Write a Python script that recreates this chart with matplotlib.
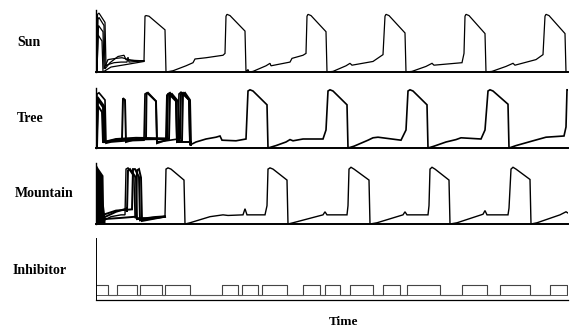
import matplotlib
matplotlib.use("Agg")
import matplotlib.pyplot as plt

# ---------------- data (time in arbitrary units, value normalised 0..1) -------------
panel_labels = ["Sun", "Tree", "Mountain", "Inhibitor"]
x_label = "Time"

# Sun
sun_main_t = [1, 1.5, 3, 9, 10, 12, 18, 25, 31, 32, 33, 40, 48, 49, 50, 53, 69, 70,
              77, 90, 97, 99, 110, 127, 129, 130, 131, 134, 149, 150,
              152, 153, 157, 170, 174, 175, 194, 196, 207, 210, 211, 212, 215, 230, 231,
              237, 250, 254, 256, 277, 287, 289, 290, 293, 309, 310,
              316, 330, 336, 338, 366, 368, 369, 370, 373, 389, 390,
              396, 410, 417, 419, 440, 447, 449, 450, 453, 469, 470, 472]
sun_main_v = [0.03, 0.93, 0.95, 0.80, 0.10, 0.12, 0.15, 0.16, 0.16, 0.24, 0.16, 0.17, 0.18, 0.90, 0.91, 0.90, 0.68, 0.0,
              0.02, 0.10, 0.15, 0.21, 0.23, 0.27, 0.30, 0.90, 0.93, 0.91, 0.66, 0.0,
              0.04, 0.0, 0.01, 0.10, 0.14, 0.10, 0.16, 0.22, 0.27, 0.30, 0.90, 0.93, 0.91, 0.65, 0.0,
              0.01, 0.10, 0.14, 0.11, 0.17, 0.28, 0.90, 0.93, 0.91, 0.63, 0.0,
              0.01, 0.09, 0.14, 0.11, 0.15, 0.30, 0.90, 0.93, 0.91, 0.62, 0.0,
              0.01, 0.09, 0.14, 0.11, 0.20, 0.28, 0.90, 0.93, 0.91, 0.62, 0.0, 0.0]
sun_tr1_t = [1, 2, 3, 8, 9, 14, 22, 28, 30, 40, 48]
sun_tr1_v = [0.02, 0.85, 0.88, 0.75, 0.05, 0.15, 0.25, 0.27, 0.20, 0.18, 0.18]
sun_tr2_t = [1, 2.5, 7, 8, 12, 20, 26, 35, 48]
sun_tr2_v = [0.02, 0.75, 0.65, 0.05, 0.20, 0.22, 0.23, 0.19, 0.18]
sun_tr3_t = [1, 2, 6, 7, 15, 30, 48]
sun_tr3_v = [0.0, 0.60, 0.50, 0.0, 0.08, 0.12, 0.17]

# Tree
tree_main_t = [0.5, 1, 3, 9, 10, 15, 30, 48, 49, 51, 60, 61, 70, 82, 83, 85, 93, 94,
               100, 110, 120, 124, 126, 140, 150, 152, 154, 157, 171, 172,
               180, 190, 194, 197, 207, 227, 230, 232, 234, 237, 251, 252,
               258, 272, 277, 282, 305, 310, 312, 314, 317, 331, 332,
               338, 350, 360, 365, 385, 389, 392, 394, 397, 412, 413,
               420, 437, 450, 468, 470, 471, 472]
tree_main_v = [0.02, 0.90, 0.92, 0.80, 0.08, 0.10, 0.12, 0.13, 0.90, 0.92, 0.78, 0.10, 0.12, 0.15, 0.90, 0.93, 0.80, 0.05,
               0.10, 0.15, 0.18, 0.20, 0.13, 0.12, 0.15, 0.95, 0.97, 0.95, 0.72, 0.0,
               0.04, 0.10, 0.14, 0.12, 0.15, 0.15, 0.30, 0.95, 0.97, 0.95, 0.72, 0.0,
               0.03, 0.13, 0.17, 0.18, 0.13, 0.30, 0.95, 0.97, 0.95, 0.72, 0.0,
               0.03, 0.10, 0.14, 0.17, 0.15, 0.30, 0.95, 0.97, 0.95, 0.73, 0.0,
               0.04, 0.12, 0.18, 0.20, 0.35, 0.97, 0.97]
tree_tr1_t = [0.5, 1.5, 8, 9, 20, 26, 27, 29, 30, 40, 50, 50.5, 52, 60, 61, 68, 71, 72, 74, 80, 81, 95]
tree_tr1_v = [0.02, 0.85, 0.70, 0.10, 0.14, 0.15, 0.83, 0.80, 0.10, 0.15, 0.16, 0.90, 0.92, 0.78, 0.08, 0.12, 0.14, 0.90, 0.92, 0.80, 0.10, 0.10]
tree_tr2_t = [0.5, 2, 7, 8, 20, 40, 70, 71, 73, 80, 81, 86, 87, 89, 94, 95]
tree_tr2_v = [0.02, 0.80, 0.68, 0.10, 0.15, 0.17, 0.16, 0.88, 0.90, 0.78, 0.10, 0.12, 0.90, 0.92, 0.80, 0.05]
tree_tr3_t = [1, 2, 6, 7, 30, 70, 73, 74, 76, 82, 83, 84, 85, 87, 93, 94]
tree_tr3_v = [0.02, 0.70, 0.60, 0.10, 0.14, 0.15, 0.15, 0.88, 0.90, 0.78, 0.10, 0.15, 0.90, 0.92, 0.80, 0.06]

# Mountain
mountain_burst_t = [0, 0.3, 2, 7, 7.5, 9]
mountain_burst_v = [0.97, 0.97, 0.92, 0.80, 0.30, 0.10]
mountain_main_t = [7, 15, 25, 29, 30, 32, 38, 39, 50, 60, 69, 70, 72, 75, 88, 89,
                   94, 114, 127, 132, 147, 149, 151, 169, 171, 172, 174, 177, 191, 192,
                   197, 227, 229, 231, 251, 252, 253, 255, 258, 273, 274,
                   281, 307, 309, 311, 332, 333, 334, 336, 339, 353, 354,
                   361, 387, 389, 391, 412, 413, 415, 417, 420, 434, 435,
                   441, 464, 470, 472]
mountain_main_v = [0.05, 0.12, 0.15, 0.15, 0.90, 0.92, 0.78, 0.10, 0.10, 0.12, 0.13, 0.90, 0.92, 0.90, 0.72, 0.0,
                   0.02, 0.12, 0.15, 0.14, 0.15, 0.25, 0.15, 0.15, 0.30, 0.90, 0.92, 0.90, 0.72, 0.0,
                   0.02, 0.15, 0.20, 0.15, 0.15, 0.30, 0.90, 0.93, 0.90, 0.72, 0.0,
                   0.02, 0.15, 0.20, 0.15, 0.15, 0.30, 0.90, 0.93, 0.90, 0.72, 0.0,
                   0.02, 0.16, 0.22, 0.15, 0.15, 0.26, 0.90, 0.93, 0.90, 0.73, 0.0,
                   0.02, 0.15, 0.20, 0.18]
mountain_tr1_t = [7, 20, 30, 31, 32, 34, 40, 41, 55, 69]
mountain_tr1_v = [0.10, 0.20, 0.25, 0.20, 0.88, 0.90, 0.76, 0.08, 0.10, 0.12]
mountain_tr2_t = [7, 20, 36, 37, 39, 43, 44, 60, 69]
mountain_tr2_v = [0.15, 0.22, 0.24, 0.90, 0.90, 0.77, 0.06, 0.10, 0.12]
mountain_tr3_t = [7, 25, 40, 41, 43, 45, 46, 69]
mountain_tr3_v = [0.08, 0.10, 0.12, 0.88, 0.90, 0.76, 0.05, 0.12]

# Inhibitor (step signal: level holds from each edge to the next)
inhibitor_t = [0, 12, 21, 41, 44, 66, 69, 94, 126, 142, 146, 162, 166, 191, 207, 224, 229,
               244, 254, 277, 287, 304, 311, 344, 366, 391, 404, 434, 454, 471, 472]
inhibitor_v = [0.24, 0.08, 0.24, 0.08, 0.24, 0.08, 0.24, 0.08, 0.24, 0.08, 0.24, 0.08, 0.24, 0.08, 0.24, 0.08, 0.24,
               0.08, 0.24, 0.08, 0.24, 0.08, 0.24, 0.08, 0.24, 0.08, 0.24, 0.08, 0.24, 0.08, 0.08]
inhibitor_floor_t = [0, 472]
inhibitor_floor_v = [0.08, 0.08]

# ---------------- figure -------------
fig = plt.figure(figsize=(5.7, 3.29), dpi=100)
serif = ["Liberation Serif", "DejaVu Serif"]

W, H = 570.0, 329.0
left_px, right_px = 96, 568
panels_px = [(10, 72), (88, 148), (163, 224), (238, 300)]
axes = []
for top, base in panels_px:
    ax = fig.add_axes([left_px / W, 1 - base / H, (right_px - left_px) / W, (base - top) / H])
    ax.set_xlim(0, 472)
    ax.set_ylim(0, 1)
    for s in ("top", "right"):
        ax.spines[s].set_visible(False)
    ax.spines["left"].set_linewidth(1.0)
    ax.spines["bottom"].set_linewidth(1.4)
    ax.set_xticks([])
    ax.set_yticks([])
    ax.patch.set_alpha(0)
    axes.append(ax)

ax_sun, ax_tree, ax_mtn, ax_inh = axes
kw = dict(color="black", solid_joinstyle="miter")

ax_sun.plot(sun_main_t, sun_main_v, lw=0.9, **kw)
for t, v in [(sun_tr1_t, sun_tr1_v), (sun_tr2_t, sun_tr2_v), (sun_tr3_t, sun_tr3_v)]:
    ax_sun.plot(t, v, lw=0.9, **kw)

ax_tree.plot(tree_main_t, tree_main_v, lw=1.2, **kw)
for t, v in [(tree_tr1_t, tree_tr1_v), (tree_tr2_t, tree_tr2_v), (tree_tr3_t, tree_tr3_v)]:
    ax_tree.plot(t, v, lw=1.4, **kw)

ax_mtn.fill_between(mountain_burst_t, 0, mountain_burst_v, color="black", lw=0)
ax_mtn.plot(mountain_main_t, mountain_main_v, lw=1.0, **kw)
for t, v in [(mountain_tr1_t, mountain_tr1_v), (mountain_tr2_t, mountain_tr2_v), (mountain_tr3_t, mountain_tr3_v)]:
    ax_mtn.plot(t, v, lw=1.4, **kw)

ax_inh.step(inhibitor_t, inhibitor_v, where="post", color="#444444", lw=0.8)
ax_inh.plot(inhibitor_floor_t, inhibitor_floor_v, color="#555555", lw=0.7)
ax_inh.spines["left"].set_linewidth(0.7)
ax_inh.spines["bottom"].set_linewidth(0.9)

label_pos = [(17, 43), (17, 118), (15, 193), (13, 270)]
for lab, (px, py) in zip(panel_labels, label_pos):
    fig.text(px / W, 1 - py / H, lab, ha="left", va="center", fontsize=10,
             fontweight="bold", family=serif)
fig.text(344 / W, 1 - 322 / H, x_label, ha="center", va="center", fontsize=9.5,
         fontweight="bold", family=serif)

fig.savefig("out.png", dpi=100)
